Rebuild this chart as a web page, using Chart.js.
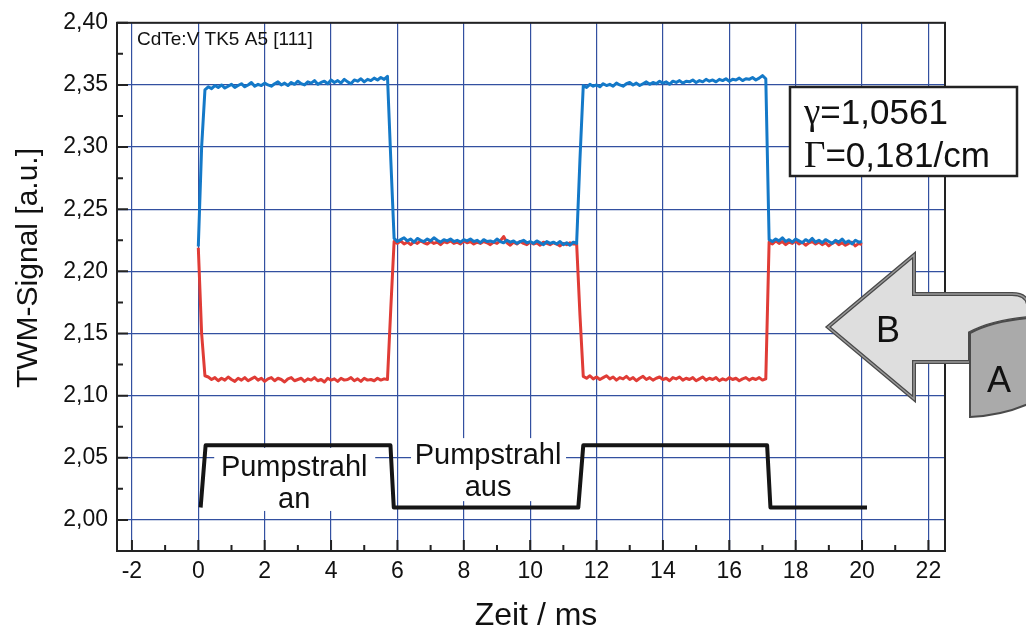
<!DOCTYPE html>
<html>
<head>
<meta charset="utf-8">
<title>TWM-Signal</title>
<script src="https://cdn.jsdelivr.net/npm/chart.js@4.4.0/dist/chart.umd.min.js"></script>
<style>
  html, body { margin: 0; padding: 0; background: #fff; }
  #wrap { width: 1026px; height: 630px; }
</style>
</head>
<body>
<div id="wrap"><canvas id="twm-chart" width="1026" height="630"></canvas></div>
<script>
// TWM signal, CdTe:V sample, pump beam switched on/off

const sampleStep = 0.1; // ms between samples, first sample at t = 0

// probe signal, upper trace (blue)
const blueSignal = [
    // switch-on
    2.2200, 2.3000, 2.3460,
    // pump on, 0.3 .. 5.7 ms
    2.3485, 2.3470, 2.3495, 2.3480, 2.3500, 2.3475, 2.3490, 2.3505, 2.3480, 2.3495,
    2.3510, 2.3485, 2.3500, 2.3520, 2.3490, 2.3505, 2.3495, 2.3515, 2.3500, 2.3490,
    2.3510, 2.3525, 2.3500, 2.3515, 2.3495, 2.3520, 2.3505, 2.3530, 2.3510, 2.3500,
    2.3525, 2.3515, 2.3535, 2.3505, 2.3520, 2.3530, 2.3510, 2.3540, 2.3520, 2.3535,
    2.3515, 2.3545, 2.3525, 2.3510, 2.3540, 2.3530, 2.3550, 2.3525, 2.3545, 2.3535,
    2.3555, 2.3540, 2.3560, 2.3545, 2.3570,
    // switch-off
    2.2900,
    // pump off, 5.9 .. 11.4 ms
    2.2265, 2.2240, 2.2255, 2.2270, 2.2245, 2.2260, 2.2235, 2.2265, 2.2250, 2.2240,
    2.2260, 2.2245, 2.2270, 2.2250, 2.2235, 2.2255, 2.2245, 2.2260, 2.2240, 2.2250,
    2.2235, 2.2255, 2.2245, 2.2260, 2.2240, 2.2250, 2.2230, 2.2255, 2.2240, 2.2245,
    2.2235, 2.2260, 2.2240, 2.2230, 2.2250, 2.2235, 2.2245, 2.2225, 2.2240, 2.2250,
    2.2230, 2.2240, 2.2225, 2.2245, 2.2230, 2.2215, 2.2240, 2.2225, 2.2235, 2.2220,
    2.2240, 2.2215, 2.2230, 2.2210, 2.2235, 2.2225,
    // switch-on
    2.2900,
    // pump on, 11.6 .. 17.1 ms
    2.3495, 2.3480, 2.3505, 2.3490, 2.3500, 2.3485, 2.3510, 2.3495, 2.3505, 2.3490,
    2.3515, 2.3500, 2.3490, 2.3510, 2.3520, 2.3500, 2.3515, 2.3495, 2.3510, 2.3525,
    2.3505, 2.3520, 2.3510, 2.3530, 2.3515, 2.3525, 2.3505, 2.3530, 2.3520, 2.3535,
    2.3515, 2.3530, 2.3525, 2.3540, 2.3520, 2.3535, 2.3525, 2.3545, 2.3530, 2.3540,
    2.3525, 2.3545, 2.3535, 2.3550, 2.3530, 2.3545, 2.3540, 2.3555, 2.3535, 2.3550,
    2.3545, 2.3560, 2.3540, 2.3555, 2.3575, 2.3550,
    // pump off, 17.2 .. 20.0 ms
    2.2255, 2.2240, 2.2260, 2.2245, 2.2270, 2.2240, 2.2255, 2.2235, 2.2260, 2.2245,
    2.2230, 2.2255, 2.2240, 2.2265, 2.2235, 2.2250, 2.2230, 2.2255, 2.2240, 2.2225,
    2.2250, 2.2235, 2.2260, 2.2230, 2.2245, 2.2220, 2.2250, 2.2235, 2.2240
];

// probe signal, lower trace (red)
const redSignal = [
    2.2190, 2.1500, 2.1160,
    2.1150, 2.1130, 2.1145, 2.1120, 2.1140, 2.1125, 2.1150, 2.1130, 2.1115, 2.1140,
    2.1125, 2.1145, 2.1120, 2.1135, 2.1150, 2.1125, 2.1140, 2.1115, 2.1135, 2.1145,
    2.1120, 2.1140, 2.1130, 2.1110, 2.1135, 2.1145, 2.1120, 2.1130, 2.1140, 2.1115,
    2.1135, 2.1125, 2.1145, 2.1120, 2.1130, 2.1110, 2.1140, 2.1125, 2.1135, 2.1115,
    2.1140, 2.1125, 2.1130, 2.1145, 2.1120, 2.1135, 2.1115, 2.1140, 2.1125, 2.1130,
    2.1120, 2.1140, 2.1125, 2.1135, 2.1130,
    2.1700,
    2.2240, 2.2225, 2.2245, 2.2220, 2.2235, 2.2215, 2.2240, 2.2225, 2.2245, 2.2230,
    2.2220, 2.2240, 2.2225, 2.2235, 2.2215, 2.2240, 2.2230, 2.2245, 2.2225, 2.2235,
    2.2220, 2.2245, 2.2230, 2.2240, 2.2220, 2.2235, 2.2225, 2.2240, 2.2230, 2.2215,
    2.2235, 2.2225, 2.2245, 2.2280, 2.2230, 2.2210, 2.2235, 2.2220, 2.2240, 2.2225,
    2.2215, 2.2235, 2.2220, 2.2230, 2.2210, 2.2235, 2.2225, 2.2215, 2.2230, 2.2220,
    2.2205, 2.2225, 2.2215, 2.2230, 2.2220, 2.2225,
    2.1650,
    2.1155, 2.1140, 2.1160, 2.1135, 2.1150, 2.1130, 2.1145, 2.1160, 2.1135, 2.1150,
    2.1125, 2.1145, 2.1135, 2.1155, 2.1130, 2.1145, 2.1120, 2.1140, 2.1155, 2.1130,
    2.1145, 2.1125, 2.1140, 2.1150, 2.1130, 2.1140, 2.1120, 2.1145, 2.1135, 2.1150,
    2.1125, 2.1140, 2.1130, 2.1145, 2.1120, 2.1135, 2.1150, 2.1125, 2.1140, 2.1130,
    2.1145, 2.1120, 2.1135, 2.1125, 2.1145, 2.1130, 2.1140, 2.1120, 2.1135, 2.1145,
    2.1125, 2.1140, 2.1130, 2.1145, 2.1125, 2.1135,
    2.2235, 2.2220, 2.2245, 2.2225, 2.2240, 2.2215, 2.2235, 2.2225, 2.2245, 2.2220,
    2.2235, 2.2210, 2.2230, 2.2240, 2.2220, 2.2235, 2.2215, 2.2230, 2.2205, 2.2225,
    2.2240, 2.2215, 2.2230, 2.2210, 2.2225, 2.2235, 2.2205, 2.2225, 2.2215
];

// pump beam state (black), corner points only
const pumpTime  = [0.07, 0.22, 5.79, 5.89, 11.45, 11.60, 17.14, 17.24, 20.15];
const pumpLevel = [2.01, 2.06, 2.06, 2.01, 2.01, 2.06, 2.06, 2.01, 2.01];

const xTicks = [-2, 0, 2, 4, 6, 8, 10, 12, 14, 16, 18, 20, 22];
const xMinorTicks = [-1, 1, 3, 5, 7, 9, 11, 13, 15, 17, 19, 21];
const yTicks = [2.00, 2.05, 2.10, 2.15, 2.20, 2.25, 2.30, 2.35, 2.40];
const yMinorTicks = [2.025, 2.075, 2.125, 2.175, 2.225, 2.275, 2.325, 2.375];

const FONT = "'Liberation Sans', Arial, Helvetica, sans-serif";
const SERIF = "'Liberation Serif', 'Times New Roman', serif";
const gridColor = '#3350a0';
const axisColor = '#222';

const toPoints = (values) => values.map((v, i) => ({ x: +(i * sampleStep).toFixed(2), y: v }));
const pumpPoints = pumpTime.map((t, i) => ({ x: t, y: pumpLevel[i] }));

const fmtComma = (v) => v.toFixed(2).replace('.', ',');

// text boxes sitting on the pump trace
const pumpLabels = [
    { x: 2.89, y: 2.0354, lines: ['Pumpstrahl', 'an'], box: [-80, -28, 161, 63] },
    { x: 8.73, y: 2.0449, lines: ['Pumpstrahl', 'aus'], box: [-77, -26, 155, 63] }
];

const overlay = {
    id: 'overlay',
    beforeDatasetsDraw(chart) {
        const { ctx, scales: { x, y } } = chart;
        ctx.save();
        ctx.font = '29px ' + FONT;
        ctx.textAlign = 'center';
        ctx.textBaseline = 'alphabetic';
        pumpLabels.forEach(lab => {
            const px = x.getPixelForValue(lab.x);
            const py = y.getPixelForValue(lab.y);
            ctx.fillStyle = '#fff';
            ctx.fillRect(px + lab.box[0], py + lab.box[1], lab.box[2], lab.box[3]);
            ctx.fillStyle = '#111';
            lab.lines.forEach((line, i) => ctx.fillText(line, px, py + i * 32));
        });
        ctx.restore();
    },
    afterDraw(chart) {
        const { ctx, chartArea: a, scales: { x, y } } = chart;
        ctx.save();

        // frame
        ctx.strokeStyle = axisColor;
        ctx.lineWidth = 2;
        ctx.strokeRect(a.left, a.top, a.right - a.left, a.bottom - a.top);

        // inward tick marks on bottom and left axes
        ctx.beginPath();
        xTicks.forEach(v => { const p = x.getPixelForValue(v); ctx.moveTo(p, a.bottom); ctx.lineTo(p, a.bottom - 11); });
        xMinorTicks.forEach(v => { const p = x.getPixelForValue(v); ctx.moveTo(p, a.bottom); ctx.lineTo(p, a.bottom - 6); });
        yTicks.forEach(v => { const p = y.getPixelForValue(v); ctx.moveTo(a.left, p); ctx.lineTo(a.left + 11, p); });
        yMinorTicks.forEach(v => { const p = y.getPixelForValue(v); ctx.moveTo(a.left, p); ctx.lineTo(a.left + 6, p); });
        ctx.stroke();

        // sample name
        ctx.fillStyle = '#111';
        ctx.font = '19px ' + FONT;
        ctx.textAlign = 'left';
        ctx.textBaseline = 'alphabetic';
        ctx.fillText('CdTe:V TK5 A5 [111]', a.left + 20, 45);

        // fit parameters box
        ctx.fillStyle = '#fff';
        ctx.fillRect(790, 87, 227, 89);
        ctx.lineWidth = 2.5;
        ctx.strokeStyle = axisColor;
        ctx.strokeRect(790, 87, 227, 89);
        ctx.fillStyle = '#111';
        const mixed = (greek, rest, px, py) => {
            ctx.font = '37px ' + SERIF;
            ctx.fillText(greek, px, py);
            const w = ctx.measureText(greek).width;
            ctx.font = '35px ' + FONT;
            ctx.fillText(rest, px + w, py);
        };
        mixed('\u03B3', '=1,0561', 804, 124);
        mixed('\u0393', '=0,181/cm', 804, 167);

        // B <- A arrow
        ctx.lineJoin = 'miter';
        ctx.beginPath();
        ctx.moveTo(828, 327);
        ctx.lineTo(914, 255);
        ctx.lineTo(914, 294);
        ctx.lineTo(1012, 294);
        ctx.quadraticCurveTo(1026, 294, 1028, 304);
        ctx.lineTo(1028, 318);
        ctx.bezierCurveTo(1005, 320, 985, 325, 970, 333);
        ctx.lineTo(970, 362);
        ctx.lineTo(914, 362);
        ctx.lineTo(914, 399);
        ctx.closePath();
        ctx.fillStyle = '#dedede';
        ctx.fill();
        ctx.strokeStyle = '#4a4a4a';
        ctx.lineWidth = 4;
        ctx.stroke();
        ctx.strokeStyle = '#9a9a9a';
        ctx.lineWidth = 1.5;
        ctx.stroke();

        ctx.beginPath();
        ctx.moveTo(970, 333);
        ctx.bezierCurveTo(985, 325, 1005, 320, 1028, 318);
        ctx.lineTo(1028, 404);
        ctx.bezierCurveTo(1010, 412, 990, 416, 970, 417);
        ctx.closePath();
        ctx.fillStyle = '#aaaaaa';
        ctx.fill();
        ctx.strokeStyle = '#4a4a4a';
        ctx.lineWidth = 2;
        ctx.stroke();

        ctx.fillStyle = '#111';
        ctx.font = '36px ' + FONT;
        ctx.textAlign = 'center';
        ctx.textBaseline = 'alphabetic';
        ctx.fillText('B', 888, 342);
        ctx.fillText('A', 999, 392);

        // axis titles
        ctx.font = '32px ' + FONT;
        ctx.fillText('Zeit / ms', 536, 625);
        ctx.save();
        ctx.translate(37, 268);
        ctx.rotate(-Math.PI / 2);
        ctx.font = '30px ' + FONT;
        ctx.fillText('TWM-Signal [a.u.]', 0, 0);
        ctx.restore();

        ctx.restore();
    }
};

new Chart(document.getElementById('twm-chart'), {
    type: 'line',
    data: {
        datasets: [
            {
                label: 'Signal oben',
                data: toPoints(blueSignal),
                borderColor: '#1479c8',
                borderWidth: 3,
                order: 0
            },
            {
                label: 'Signal unten',
                data: toPoints(redSignal),
                borderColor: '#e03c36',
                borderWidth: 3,
                order: 1
            },
            {
                label: 'Pumpstrahl',
                data: pumpPoints,
                borderColor: '#151515',
                borderWidth: 4,
                order: 2
            }
        ]
    },
    options: {
        responsive: false,
        animation: false,
        parsing: false,
        elements: {
            point: { radius: 0 },
            line: { tension: 0, fill: false, borderJoinStyle: 'round' }
        },
        layout: { padding: { left: 0, right: 81, top: 18, bottom: 0 } },
        plugins: {
            legend: { display: false },
            tooltip: { enabled: false }
        },
        scales: {
            x: {
                type: 'linear',
                min: -2.45,
                max: 22.5,
                afterBuildTicks: s => { s.ticks = xTicks.map(v => ({ value: v })); },
                afterFit: s => { s.height = 79; },
                grid: { color: gridColor, lineWidth: 1.2, drawTicks: false },
                border: { display: false },
                ticks: {
                    autoSkip: false,
                    maxRotation: 0,
                    padding: 7,
                    color: '#111',
                    font: { family: FONT, size: 23 },
                    callback: v => String(v)
                }
            },
            y: {
                type: 'linear',
                min: 1.975,
                max: 2.40,
                afterBuildTicks: s => { s.ticks = yTicks.map(v => ({ value: v })); },
                afterFit: s => { s.width = 117; },
                grid: { color: gridColor, lineWidth: 1.2, drawTicks: false },
                border: { display: false },
                ticks: {
                    autoSkip: false,
                    padding: 9,
                    color: '#111',
                    font: { family: FONT, size: 23 },
                    callback: v => fmtComma(v)
                }
            }
        }
    },
    plugins: [overlay]
});
</script>
</body>
</html>
